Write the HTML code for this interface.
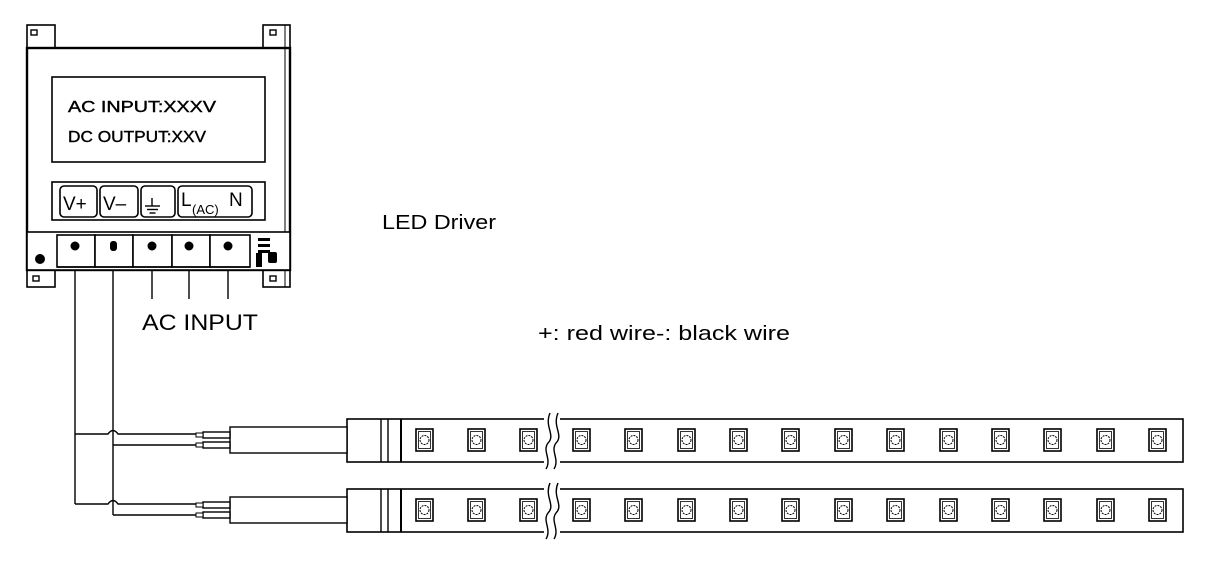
<!DOCTYPE html>
<html><head><style>
html,body{margin:0;padding:0;background:#fff;}
svg{display:block;}
text{font-family:"Liberation Sans",sans-serif;}
</style></head><body>
<svg width="1205" height="561" viewBox="0 0 1205 561" xmlns="http://www.w3.org/2000/svg">
<defs>
<g id="led">
<rect x="0" y="0" width="17" height="22" fill="#fff" stroke="#000" stroke-width="1.6"/>
<rect x="2.5" y="2.5" width="12" height="17" fill="none" stroke="#000" stroke-width="0.8"/>
<circle cx="8.5" cy="11" r="4.5" fill="none" stroke="#000" stroke-width="1" stroke-dasharray="2 1"/>
</g>
<g id="strip">
<rect x="347" y="0" width="836" height="43" fill="#fff" stroke="#000" stroke-width="1.6"/>
<line x1="381" y1="0" x2="381" y2="43" stroke="#000" stroke-width="1.4"/>
<line x1="388" y1="0" x2="388" y2="43" stroke="#000" stroke-width="1.4"/>
<line x1="401" y1="0" x2="401" y2="43" stroke="#000" stroke-width="2"/>
<rect x="230" y="8" width="117" height="26" fill="#fff" stroke="#000" stroke-width="1.4"/>
<rect x="203" y="13" width="27" height="6" fill="#fff" stroke="#000" stroke-width="1.4"/>
<rect x="203" y="23" width="27" height="6" fill="#fff" stroke="#000" stroke-width="1.4"/>
<rect x="196" y="14" width="7" height="4" fill="#fff" stroke="#000" stroke-width="1"/>
<rect x="196" y="24" width="7" height="4" fill="#fff" stroke="#000" stroke-width="1"/>
<use href="#led" x="416" y="10"/>
<use href="#led" x="468" y="10"/>
<use href="#led" x="520" y="10"/>
<rect x="544" y="-3" width="16" height="50" fill="#fff"/>
<path d="M550,-6 C544,8 556,16 548,24 C542,32 552,40 546,50" fill="none" stroke="#000" stroke-width="1.4"/>
<path d="M558,-6 C552,8 564,16 556,24 C550,32 560,40 554,50" fill="none" stroke="#000" stroke-width="1.4"/>
<use href="#led" x="573" y="10"/>
<use href="#led" x="625" y="10"/>
<use href="#led" x="678" y="10"/>
<use href="#led" x="730" y="10"/>
<use href="#led" x="782" y="10"/>
<use href="#led" x="835" y="10"/>
<use href="#led" x="887" y="10"/>
<use href="#led" x="940" y="10"/>
<use href="#led" x="992" y="10"/>
<use href="#led" x="1044" y="10"/>
<use href="#led" x="1097" y="10"/>
<use href="#led" x="1149" y="10"/>
</g>
</defs>

<g fill="none" stroke="#000" stroke-width="1.4">
<line x1="75" y1="265" x2="75" y2="504"/>
<line x1="113" y1="265" x2="113" y2="515"/>
<path d="M75,434 H108 q5,-7 10,0 H196"/>
<path d="M113,445 H196"/>
<path d="M75,504 H108 q5,-7 10,0 H196"/>
<path d="M113,515 H196"/>
<line x1="152" y1="265" x2="152" y2="299"/>
<line x1="189" y1="265" x2="189" y2="299"/>
<line x1="228" y1="265" x2="228" y2="299"/>
</g>

<use href="#strip" x="0" y="419"/>
<use href="#strip" x="0" y="489"/>

<g fill="#fff" stroke="#000" stroke-width="1.6">
<rect x="27" y="25" width="28" height="23"/>
<rect x="263" y="25" width="27" height="23"/>
<rect x="27" y="268" width="28" height="19"/>
<rect x="263" y="268" width="27" height="19"/>
<rect x="27" y="48" width="263" height="222" stroke-width="2.4"/>
<line x1="285" y1="25" x2="285" y2="287" stroke-width="1"/>
<rect x="52" y="77" width="213" height="85"/>
<rect x="52" y="182" width="213" height="38"/>
<rect x="27" y="232" width="263" height="38"/>
<rect x="57" y="235" width="38" height="32"/>
<rect x="95" y="235" width="38" height="32"/>
<rect x="133" y="235" width="39" height="32"/>
<rect x="172" y="235" width="38" height="32"/>
<rect x="210" y="235" width="40" height="32"/>
<rect x="60" y="186" width="37" height="31" rx="4"/>
<rect x="100" y="186" width="38" height="31" rx="4"/>
<rect x="141" y="186" width="34" height="31" rx="4"/>
<rect x="178" y="186" width="74" height="31" rx="4"/>
</g>
<g fill="none" stroke="#000" stroke-width="1.4">
<rect x="31" y="30" width="6" height="5"/>
<rect x="270" y="30" width="6" height="5"/>
<rect x="33" y="276" width="6" height="5"/>
<rect x="270" y="276" width="6" height="5"/>
<line x1="152" y1="198" x2="152" y2="206"/>
<line x1="145" y1="206" x2="160" y2="206"/>
<line x1="147" y1="209.5" x2="158" y2="209.5"/>
<line x1="149.5" y1="213" x2="155.5" y2="213"/>
<line x1="57" y1="267" x2="250" y2="267"/>
</g>
<g fill="#000">
<circle cx="75" cy="246" r="4.5"/>
<rect x="110" y="241" width="7" height="10" rx="3"/>
<circle cx="152" cy="246" r="4.5"/>
<circle cx="189" cy="246" r="4.5"/>
<circle cx="228" cy="246" r="4.5"/>
<circle cx="40" cy="259" r="5"/>
<rect x="268" y="252" width="9" height="11" rx="2"/>
<rect x="258" y="238" width="12" height="3"/>
<rect x="258" y="244" width="12" height="3"/>
<rect x="258" y="250" width="12" height="3"/>
<rect x="256" y="253" width="6" height="14"/>
</g>
<g font-size="16" fill="#000" font-family="Liberation Mono, monospace" stroke="#000" stroke-width="0.4">
<text x="68" y="112" textLength="148" lengthAdjust="spacingAndGlyphs">AC INPUT:XXXV</text>
<text x="68" y="142" textLength="138" lengthAdjust="spacingAndGlyphs">DC OUTPUT:XXV</text>
</g>
<g font-size="19" fill="#000">
<text x="63" y="210">V+</text>
<text x="103" y="210">V–</text>
<text x="181" y="206">L</text>
<text x="192" y="214" font-size="13">(AC)</text>
<text x="229" y="206">N</text>
</g>
<text x="142" y="330" font-size="22" textLength="116" lengthAdjust="spacingAndGlyphs">AC INPUT</text>
<text x="382" y="229" font-size="20" textLength="114" lengthAdjust="spacingAndGlyphs">LED Driver</text>
<text x="538" y="340" font-size="20" textLength="252" lengthAdjust="spacingAndGlyphs">+: red wire-: black wire</text>
</svg>
</body></html>
